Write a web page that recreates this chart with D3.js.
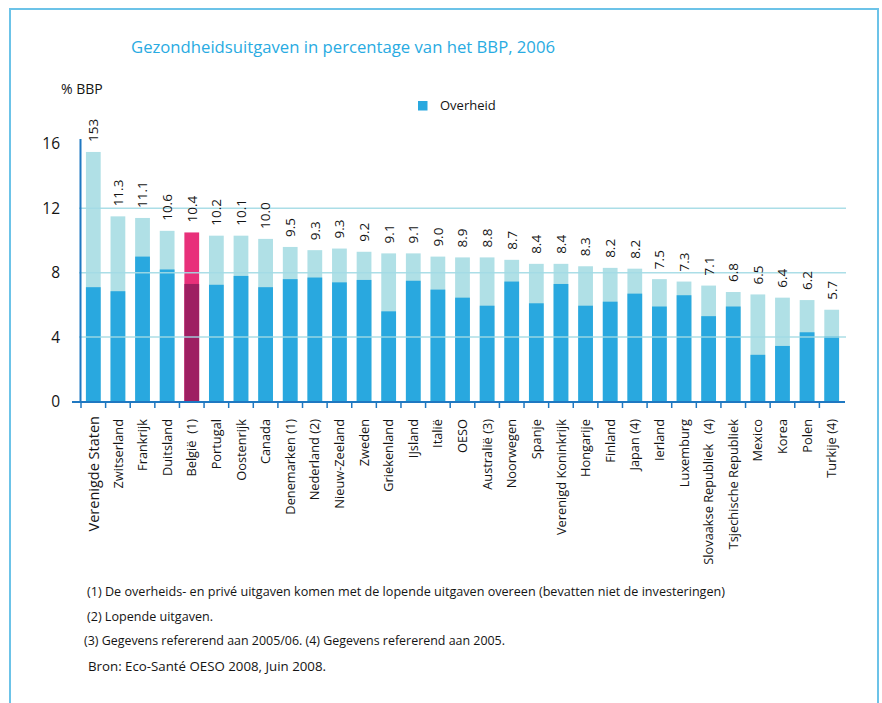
<!DOCTYPE html>
<html><head><meta charset="utf-8">
<script src="https://cdn.jsdelivr.net/npm/d3@7/dist/d3.min.js"></script>
<style>
html,body{margin:0;padding:0;background:#fff;}
svg{display:block;font-family:"Open Sans","Noto Sans",sans-serif;}
.cat{white-space:pre;}
</style></head>
<body>
<svg id="chart" width="882" height="703"></svg>
<script>
const categories = ["Verenigde Staten","Zwitserland","Frankrijk","Duitsland","België  (1)","Portugal","Oostenrijk","Canada","Denemarken (1)","Nederland (2)","Nieuw-Zeeland","Zweden","Griekenland","IJsland","Italië","OESO","Australië (3)","Noorwegen","Spanje","Verenigd Koninkrijk","Hongarije","Finland","Japan (4)","Ierland","Luxemburg","Slovaakse Republiek   (4)","Tsjechische Republiek","Mexico","Korea","Polen","Turkije (4)"];
const totalValues = [15.5,11.5,11.4,10.6,10.5,10.3,10.3,10.1,9.6,9.4,9.5,9.3,9.2,9.2,9.0,8.95,8.95,8.8,8.55,8.55,8.4,8.3,8.25,7.6,7.45,7.2,6.8,6.65,6.45,6.3,5.7];
const publicValues = [7.1,6.85,9.0,8.2,7.3,7.25,7.8,7.1,7.6,7.7,7.4,7.55,5.6,7.5,6.95,6.45,5.95,7.45,6.1,7.3,5.95,6.2,6.7,5.9,6.6,5.3,5.9,2.9,3.45,4.3,4.05];
const valueLabels = ["153","11.3","11.1","10.6","10.4","10.2","10.1","10.0","9.5","9.3","9.3","9.2","9.1","9.1","9.0","8.9","8.8","8.7","8.4","8.4","8.3","8.2","8.2","7.5","7.3","7.1","6.8","6.5","6.4","6.2","5.7"];
const yTicks = [0,4,8,12,16];
const gridTicks = [4,8,12];
const highlight = "België  (1)";
const titleText = "Gezondheidsuitgaven in percentage van het BBP, 2006";
const yAxisTitle = "% BBP";
const legendLabel = "Overheid";
const footnotes = [
  "(1) De overheids- en privé uitgaven komen met de lopende uitgaven overeen (bevatten niet de investeringen)",
  "(2) Lopende uitgaven.",
  "(3) Gegevens refererend aan 2005/06. (4) Gegevens refererend aan 2005.",
  "Bron: Eco-Santé OESO 2008, Juin 2008."
];

const C = {
  pub:"#29a8df", priv:"#b0e0e6", beTop:"#e8307a", bePub:"#9e1f62",
  axis:"#1f78c1", grid:"#a3dbe5", frame:"#6cc3e8", title:"#29abe2", text:"#141414"
};

const svg = d3.select("#chart");

// frame
svg.append("path").attr("d","M10,703 L10,9 L878,9 L878,703")
  .attr("fill","none").attr("stroke",C.frame).attr("stroke-width",2);

const x = d3.scaleBand().domain(categories).range([81,844]).padding(0);
const y = d3.scaleLinear().domain([0,16]).range([401.5,143.9]);
const bw = x.bandwidth()*0.6;
const off = (x.bandwidth()-bw)/2;

const rows = categories.map((c,i)=>({c, t:totalValues[i], p:publicValues[i], l:valueLabels[i]}));

// bars: total (private on top) then public
svg.append("g").selectAll("rect").data(rows).join("rect")
  .attr("x",d=>x(d.c)+off).attr("width",bw)
  .attr("y",d=>y(d.t)).attr("height",d=>y(0)-y(d.t))
  .attr("fill",d=>d.c===highlight?C.beTop:C.priv);
svg.append("g").selectAll("rect").data(rows).join("rect")
  .attr("x",d=>x(d.c)+off).attr("width",bw)
  .attr("y",d=>y(d.p)).attr("height",d=>y(0)-y(d.p))
  .attr("fill",d=>d.c===highlight?C.bePub:C.pub);

// gridlines on top
svg.append("g").selectAll("line").data(gridTicks).join("line")
  .attr("x1",79).attr("x2",846)
  .attr("y1",d=>y(d)).attr("y2",d=>y(d))
  .attr("stroke",C.grid).attr("stroke-width",1.5).attr("opacity",0.9);

// y axis
svg.append("line").attr("x1",80.5).attr("x2",80.5).attr("y1",139).attr("y2",403)
  .attr("stroke",C.axis).attr("stroke-width",2);
svg.append("g").selectAll("text").data(yTicks).join("text")
  .attr("x",60).attr("y",d=>y(d)).attr("dy","0.35em")
  .attr("text-anchor","end").attr("font-size",15.5).attr("fill",C.text)
  .text(d=>d);

// x axis
const xAxisY = 402;
svg.append("line").attr("x1",72).attr("x2",845).attr("y1",xAxisY).attr("y2",xAxisY)
  .attr("stroke",C.axis).attr("stroke-width",2);
svg.append("g").selectAll("line").data(categories).join("line")
  .attr("x1",d=>x(d)).attr("x2",d=>x(d))
  .attr("y1",xAxisY).attr("y2",xAxisY+6)
  .attr("stroke",C.axis).attr("stroke-width",1.5);

// category labels
svg.append("g").selectAll("text").data(categories).join("text")
  .attr("class","cat")
  .attr("transform",(d,i)=>`translate(${x(d)+x.bandwidth()/2},${i===0?416:419}) rotate(-90)`)
  .attr("dy","0.36em").attr("text-anchor","end")
  .attr("font-size",(d,i)=>i===0?14.5:12.8).attr("fill",C.text)
  .text(d=>d);

// value labels
svg.append("g").selectAll("text").data(rows).join("text")
  .attr("transform",d=>`translate(${x(d.c)+x.bandwidth()/2},${y(d.t)-10}) rotate(-90)`)
  .attr("dy","0.36em").attr("text-anchor","start")
  .attr("font-size",13.5).attr("fill",C.text)
  .text(d=>d.l);

// title
svg.append("text").attr("x",131).attr("y",53).attr("fill",C.title)
  .attr("font-size",17).attr("textLength",424).attr("lengthAdjust","spacingAndGlyphs")
  .text(titleText);
svg.append("text").attr("x",61).attr("y",94).attr("fill",C.text)
  .attr("font-size",14).text(yAxisTitle);

// legend
svg.append("rect").attr("x",418).attr("y",101).attr("width",9.5).attr("height",9.5).attr("fill",C.pub);
svg.append("text").attr("x",440).attr("y",110).attr("font-size",13).attr("fill",C.text).text(legendLabel);

// footnotes
const fx = [87,87,84,88], fy=[596,621,645,671], fw=[638,126,421,238];
svg.append("g").selectAll("text").data(footnotes).join("text")
  .attr("x",(d,i)=>fx[i]).attr("y",(d,i)=>fy[i])
  .attr("font-size",12.5).attr("fill",C.text)
  .attr("textLength",(d,i)=>fw[i]).attr("lengthAdjust","spacingAndGlyphs")
  .text(d=>d);
</script>
</body></html>
